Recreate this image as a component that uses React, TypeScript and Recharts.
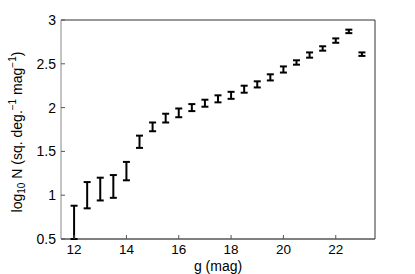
import React from 'react';
import { ScatterChart, Scatter, XAxis, YAxis, ErrorBar } from 'recharts';

const gMag = [12, 12.5, 13, 13.5, 14, 14.5, 15, 15.5, 16, 16.5, 17, 17.5, 18, 18.5, 19, 19.5, 20, 20.5, 21, 21.5, 22, 22.5, 23];
const lower = [0.50, 0.85, 0.94, 0.97, 1.17, 1.54, 1.73, 1.83, 1.89, 1.96, 2.01, 2.06, 2.10, 2.17, 2.23, 2.31, 2.40, 2.49, 2.57, 2.65, 2.74, 2.85, 2.59];
const upper = [0.88, 1.15, 1.20, 1.23, 1.38, 1.68, 1.83, 1.93, 1.99, 2.04, 2.09, 2.14, 2.18, 2.25, 2.30, 2.38, 2.47, 2.54, 2.63, 2.70, 2.79, 2.89, 2.63];
const xTicks = [12, 14, 16, 18, 20, 22];
const yTicks = [0.5, 1, 1.5, 2, 2.5, 3];

const data = gMag.map((g, i) => {
  const c = (lower[i] + upper[i]) / 2;
  return { g, y: c, err: [c - lower[i], upper[i] - c] };
});

const FONT = '"Liberation Sans", Arial, Helvetica, sans-serif';
const FS = 14;

const YLabel = () => {
  const cx = 17;
  const cy = 132;
  return (
    <text
      x={cx}
      y={cy}
      transform={`rotate(-90 ${cx} ${cy})`}
      textAnchor="middle"
      dominantBaseline="central"
      fontFamily={FONT}
      fontSize={FS}
      fill="#000"
    >
      <tspan>log</tspan>
      <tspan dy={4} fontSize={10}>10</tspan>
      <tspan dy={-4}> N (sq. deg.</tspan>
      <tspan dy={-5} fontSize={10}>−1</tspan>
      <tspan dy={5}> mag</tspan>
      <tspan dy={-5} fontSize={10}>−1</tspan>
      <tspan dy={5}>)</tspan>
    </text>
  );
};

export default function App() {
  return (
    <div style={{ position: 'absolute', left: 0, top: 0 }}>
      <ScatterChart width={415} height={274} margin={{ top: 19, right: 39, bottom: 0, left: 0 }}>
        <XAxis
          xAxisId="b"
          type="number"
          dataKey="g"
          domain={[11.5, 23.5]}
          ticks={xTicks}
          allowDataOverflow
          height={35}
          tickSize={-4}
          tickMargin={9}
          stroke="#000"
          tick={{ fill: '#000', fontSize: 13.5, fontFamily: FONT }}
          tickLine={{ stroke: '#555' }}
          label={{ value: 'g (mag)', position: 'insideBottom', offset: 3, fill: '#000', fontSize: FS, fontFamily: FONT }}
        />
        <XAxis
          xAxisId="t"
          orientation="top"
          type="number"
          dataKey="g"
          domain={[11.5, 23.5]}
          ticks={xTicks}
          allowDataOverflow
          height={1}
          tickSize={-4}
          tick={false}
          stroke="#333"
        />
        <YAxis
          yAxisId="l"
          type="number"
          dataKey="y"
          domain={[0.5, 3]}
          ticks={yTicks}
          allowDataOverflow
          width={61}
          tickSize={-4}
          tickMargin={9}
          stroke="#888"
          tick={{ fill: '#000', fontSize: FS, fontFamily: FONT }}
          tickLine={{ stroke: '#555' }}
          label={<YLabel />}
        />
        <YAxis
          yAxisId="r"
          orientation="right"
          type="number"
          dataKey="y"
          domain={[0.5, 3]}
          ticks={yTicks}
          allowDataOverflow
          width={1}
          tickSize={-4}
          tick={false}
          stroke="#333"
        />
        <Scatter
          data={data}
          xAxisId="b"
          yAxisId="l"
          isAnimationActive={false}
          shape={() => <g />}
        >
          <ErrorBar dataKey="err" direction="y" width={3.5} strokeWidth={2} stroke="#000" isAnimationActive={false} />
        </Scatter>
      </ScatterChart>
    </div>
  );
}
